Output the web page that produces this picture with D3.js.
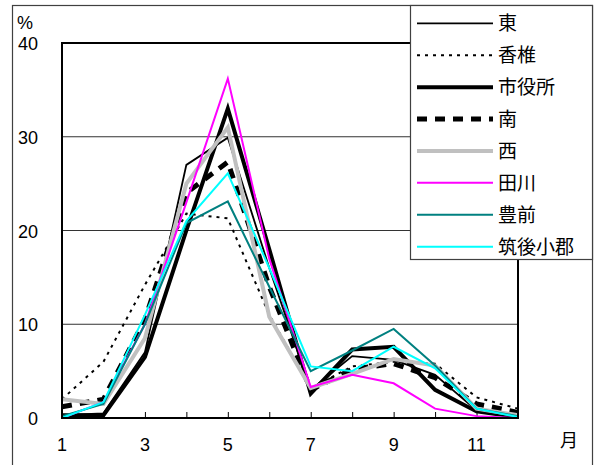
<!DOCTYPE html>
<html>
<head>
<meta charset="utf-8">
<script src="https://cdn.jsdelivr.net/npm/d3@7"></script>
<style>
  html, body { margin: 0; padding: 0; background: #fff; }
  svg { display: block; }
  text { font-family: "Liberation Sans", Arial, sans-serif; fill: #000; }
  .cjk { font-family: "Noto Sans CJK JP", "Noto Sans CJK SC", sans-serif; }
</style>
</head>
<body>
<svg id="chart" width="594" height="465"></svg>
<script>
// Months on the x axis
const months = [1, 2, 3, 4, 5, 6, 7, 8, 9, 10, 11, 12];
const xTickLabels = [1, 3, 5, 7, 9, 11];
const yTickLabels = [0, 10, 20, 30, 40];

// Monthly share (%) per area
const seriesNames = ["東", "香椎", "市役所", "南", "西", "田川", "豊前", "筑後小郡"];
const higashi   = [0.3, 0.5, 7.0, 27.0, 29.9, 16.0, 3.0, 6.6, 6.2, 4.6, 0.8, 0.2];
const kashii    = [2.0, 6.0, 14.2, 21.8, 21.3, 11.0, 3.2, 5.5, 6.0, 5.8, 2.2, 1.0];
const shiyakusho= [0.3, 0.3, 6.5, 20.0, 33.0, 18.0, 2.6, 7.3, 7.6, 3.0, 0.7, 0.1];
const minami    = [1.2, 2.0, 10.5, 24.0, 27.3, 14.0, 3.0, 5.2, 5.8, 4.3, 1.5, 0.6];
const nishi     = [2.0, 1.5, 8.5, 25.0, 31.0, 10.8, 3.2, 4.7, 6.3, 5.6, 1.0, 0.3];
const tagawa    = [0.0, 1.7, 10.0, 23.0, 36.2, 17.0, 3.3, 4.6, 3.7, 1.0, 0.2, 0.0];
const buzen     = [0.2, 1.5, 10.0, 20.8, 23.1, 14.0, 5.0, 7.2, 9.5, 5.6, 1.0, 0.2];
const chikugo   = [0.0, 1.7, 11.0, 21.0, 26.1, 16.0, 5.5, 5.0, 7.6, 5.3, 1.0, 0.1];
const seriesValues = [higashi, kashii, shiyakusho, minami, nishi, tagawa, buzen, chikugo];

// Line styles per area
const styles = [
  { color: "#000000", width: 1.8, dash: null },
  { color: "#000000", width: 2,   dash: "3,5" },
  { color: "#000000", width: 4,   dash: null },
  { color: "#000000", width: 5,   dash: "10,8" },
  { color: "#c0c0c0", width: 4,   dash: null },
  { color: "#ff00ff", width: 2,   dash: null },
  { color: "#008080", width: 2,   dash: null },
  { color: "#00ffff", width: 2,   dash: null }
];

const svg = d3.select("#chart");
const plot = { left: 62, right: 518, top: 43, bottom: 418 };

const x = d3.scaleLinear().domain([1, 12]).range([plot.left, plot.right]);
const y = d3.scaleLinear().domain([0, 40]).range([plot.bottom, plot.top]);

// Outer frame
svg.append("rect")
  .attr("x", 12.5).attr("y", 5.5).attr("width", 580).attr("height", 470)
  .attr("fill", "none").attr("stroke", "#404040").attr("stroke-width", 1.2);

// Horizontal gridlines
svg.append("g")
  .selectAll("line")
  .data([10, 20, 30])
  .join("line")
  .attr("x1", plot.left).attr("x2", plot.right)
  .attr("y1", d => y(d)).attr("y2", d => y(d))
  .attr("stroke", "#333").attr("stroke-width", 1);

// Bottom axis with inward ticks for every month
const xAxis = d3.axisBottom(x)
  .tickValues(months)
  .tickSizeInner(-6).tickSizeOuter(0)
  .tickFormat("");
const gx = svg.append("g").attr("transform", `translate(0,${plot.bottom})`).call(xAxis);
gx.select(".domain").remove();
gx.selectAll("line").attr("stroke", "#000").attr("stroke-width", 1);

svg.append("g")
  .selectAll("text")
  .data(xTickLabels)
  .join("text")
  .attr("x", d => x(d)).attr("y", 451)
  .attr("text-anchor", "middle")
  .attr("font-size", 18)
  .text(d => d);

// Y tick labels
svg.append("g")
  .selectAll("text")
  .data(yTickLabels)
  .join("text")
  .attr("x", 38).attr("y", d => y(d) + 7)
  .attr("text-anchor", "end")
  .attr("font-size", 18)
  .text(d => d);

svg.append("text").attr("x", 17).attr("y", 29).attr("font-size", 18).text("%");
svg.append("text").attr("class", "cjk").attr("x", 560).attr("y", 447).attr("font-size", 18).text("月");

// Series lines
const line = d3.line()
  .x((d, i) => x(months[i]))
  .y(d => y(d));

svg.append("g")
  .selectAll("path")
  .data(seriesValues)
  .join("path")
  .attr("d", d => line(d))
  .attr("fill", "none")
  .attr("stroke", (d, i) => styles[i].color)
  .attr("stroke-width", (d, i) => styles[i].width)
  .attr("stroke-dasharray", (d, i) => styles[i].dash)
  .attr("stroke-linejoin", "miter");

// Plot frame
svg.append("rect")
  .attr("x", plot.left).attr("y", plot.top)
  .attr("width", plot.right - plot.left).attr("height", plot.bottom - plot.top)
  .attr("fill", "none").attr("stroke", "#000").attr("stroke-width", 2);

// Legend
const legend = svg.append("g");
legend.append("rect")
  .attr("x", 410.5).attr("y", 5.5).attr("width", 182).attr("height", 254)
  .attr("fill", "#fff").attr("stroke", "#404040").attr("stroke-width", 1.2);

const ly = d3.scalePoint().domain(seriesNames).range([23.3, 246.7]);
const items = legend.selectAll("g.item")
  .data(seriesNames)
  .join("g").attr("class", "item");
items.append("line")
  .attr("x1", 417).attr("x2", 493)
  .attr("y1", d => ly(d)).attr("y2", d => ly(d))
  .attr("stroke", (d, i) => styles[i].color)
  .attr("stroke-width", (d, i) => styles[i].width)
  .attr("stroke-dasharray", (d, i) => styles[i].dash);
items.append("text")
  .attr("class", "cjk")
  .attr("x", 498).attr("y", d => ly(d) + 7)
  .attr("font-size", 19)
  .text(d => d);
</script>
</body>
</html>
